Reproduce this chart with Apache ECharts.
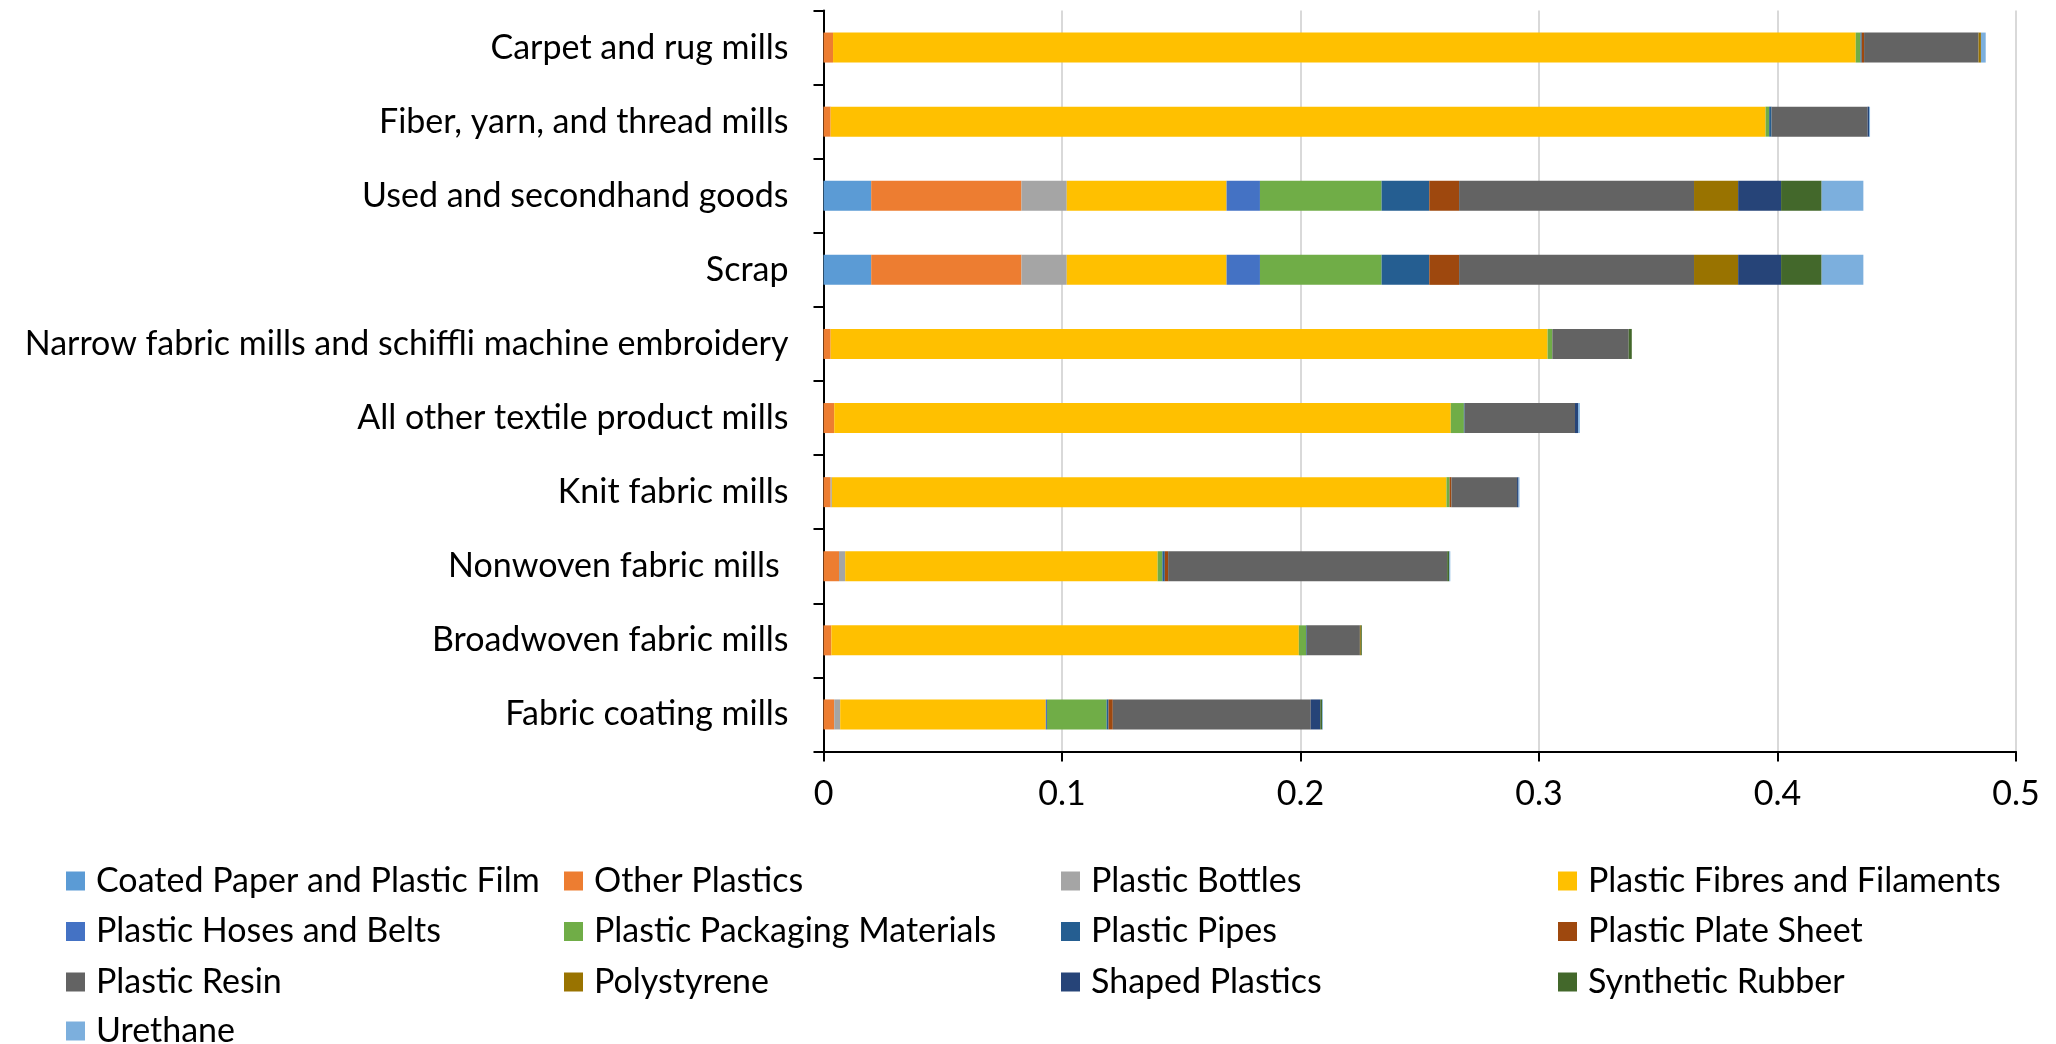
<!DOCTYPE html>
<html>
<head>
<meta charset="utf-8">
<style>
  html, body { margin: 0; padding: 0; background: #fff; }
  #chart { width: 2056px; height: 1044px; }
</style>
<script src="https://cdn.jsdelivr.net/npm/echarts@6/dist/echarts.min.js"></script>
</head>
<body>
<div id="chart"></div>
<script>
// Categories, top to bottom
var categories = [
  "Carpet and rug mills",
  "Fiber, yarn, and thread mills",
  "Used and secondhand goods",
  "Scrap",
  "Narrow fabric mills and schiffli machine embroidery",
  "All other textile product mills",
  "Knit fabric mills",
  "Nonwoven fabric mills ",
  "Broadwoven fabric mills",
  "Fabric coating mills"
];

var seriesNames = [
  "Coated Paper and Plastic Film",
  "Other Plastics",
  "Plastic Bottles",
  "Plastic Fibres and Filaments",
  "Plastic Hoses and Belts",
  "Plastic Packaging Materials",
  "Plastic Pipes",
  "Plastic Plate Sheet",
  "Plastic Resin",
  "Polystyrene",
  "Shaped Plastics",
  "Synthetic Rubber",
  "Urethane"
];

var coatedPaper   = [0,      0,      0.020,  0.020,  0,      0,      0,      0,      0,      0];
var otherPlastics = [0.004,  0.003,  0.063,  0.063,  0.003,  0.0045, 0.003,  0.0065, 0.0033, 0.0045];
var bottles       = [0,      0,      0.019,  0.019,  0,      0,      0.0005, 0.0026, 0,      0.0025];
var fibres        = [0.4288, 0.392,  0.067,  0.067,  0.3006, 0.2585, 0.2577, 0.131,  0.196,  0.0862];
var hoses         = [0,      0,      0.014,  0.014,  0,      0,      0,      0,      0,      0.0005];
var packaging     = [0.002,  0.0015, 0.051,  0.051,  0.002,  0.0055, 0.0013, 0.002,  0.003,  0.025];
var pipes         = [0.0005, 0.001,  0.020,  0.020,  0,      0.0003, 0,      0.001,  0.0003, 0.0008];
var plateSheet    = [0.001,  0,      0.0125, 0.0125, 0,      0,      0.0008, 0.0014, 0,      0.0018];
var resin         = [0.048,  0.0403, 0.0985, 0.0985, 0.032,  0.0463, 0.0275, 0.117,  0.0223, 0.083];
var polystyrene   = [0.001,  0,      0.0185, 0.0185, 0,      0,      0,      0,      0.0004, 0];
var shaped        = [0,      0.0006, 0.018,  0.018,  0,      0.0013, 0.0006, 0,      0,      0.004];
var rubber        = [0,      0,      0.017,  0.017,  0.0013, 0,      0,      0.0009, 0.0004, 0.0008];
var urethane      = [0.002,  0.0004, 0.0175, 0.0175, 0,      0.0007, 0.0004, 0.0004, 0,      0.0003];

var xTicks = [0, 0.1, 0.2, 0.3, 0.4, 0.5];

var seriesData = [coatedPaper, otherPlastics, bottles, fibres, hoses, packaging, pipes,
                  plateSheet, resin, polystyrene, shaped, rubber, urethane];
var colors = ["#5B9BD5", "#ED7D31", "#A5A5A5", "#FFC000", "#4472C4", "#70AD47", "#255E91",
              "#9E480E", "#636363", "#997300", "#264478", "#43682B", "#7CAFDD"];

var FONT = "Lato";
var FS = 34;
var chart = echarts.init(document.getElementById('chart'), null, { renderer: 'canvas' });

var series = seriesNames.map(function (name, i) {
  return {
    name: name,
    type: 'bar',
    stack: 'total',
    barWidth: 30,
    itemStyle: { color: colors[i] },
    emphasis: { disabled: true },
    data: seriesData[i]
  };
});

function legendCol(left, top, names) {
  return {
    orient: 'vertical',
    left: left,
    top: top,
    padding: 0,
    itemWidth: 19,
    itemHeight: 19,
    itemGap: 16.5,
    icon: 'rect',
    selectedMode: false,
    textStyle: { fontFamily: FONT, fontSize: FS, color: '#000', padding: [0, 0, 0, 6] },
    data: names
  };
}

var option = {
  animation: false,
  color: colors,
  grid: { left: 823.5, right: 40, top: 10.5, bottom: 292.5, containLabel: false },
  xAxis: {
    type: 'value',
    min: xTicks[0],
    max: xTicks[xTicks.length - 1],
    interval: 0.1,
    axisLine: { show: true, lineStyle: { color: '#000', width: 2 } },
    axisTick: { show: true, length: 10, inside: false, lineStyle: { color: '#000', width: 2 } },
    splitLine: { show: true, lineStyle: { color: '#d9d9d9', width: 2 } },
    axisLabel: { fontFamily: FONT, fontSize: FS, color: '#000', margin: 26 }
  },
  yAxis: {
    type: 'category',
    inverse: true,
    data: categories,
    axisLine: { show: true, lineStyle: { color: '#000', width: 2 } },
    axisTick: { show: true, length: 10, lineStyle: { color: '#000', width: 2 } },
    axisLabel: { fontFamily: FONT, fontSize: FS, color: '#000', margin: 35 }
  },
  legend: [
    legendCol(66,   864, [seriesNames[0], seriesNames[4], seriesNames[8]]),
    legendCol(66,  1014, [seriesNames[12]]),
    legendCol(564,  864, [seriesNames[1], seriesNames[5], seriesNames[9]]),
    legendCol(1061, 864, [seriesNames[2], seriesNames[6], seriesNames[10]]),
    legendCol(1558, 864, [seriesNames[3], seriesNames[7], seriesNames[11]])
  ],
  series: series
};
chart.setOption(option);
</script>
</body>
</html>
